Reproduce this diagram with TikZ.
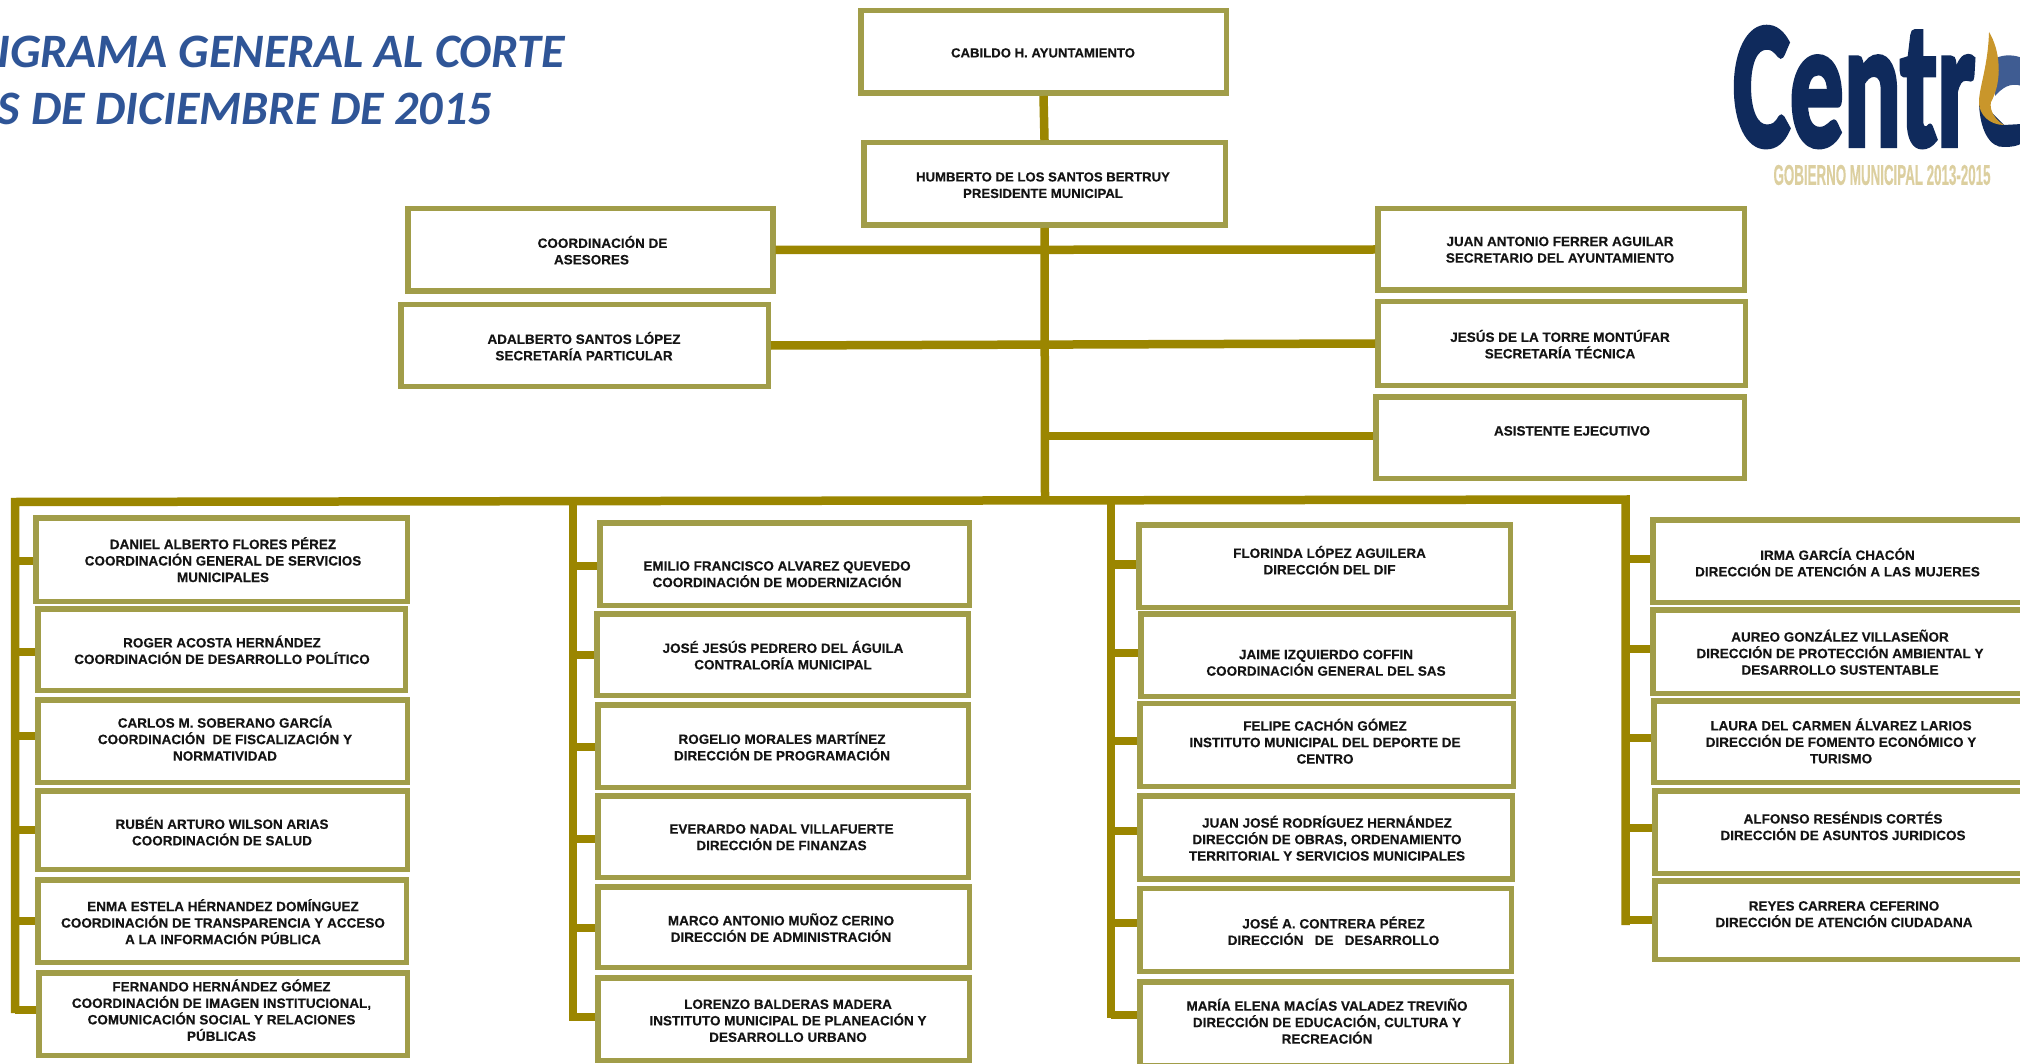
\documentclass[tikz,border=0pt]{standalone}
\usepackage{fontspec}
\setmainfont[BoldFeatures={FakeBold=0.35}]{Liberation Sans}
\newfontfamily\titlefont{Carlito}
\newfontfamily\logofont[FakeBold=3]{Carlito}
\definecolor{boxc}{HTML}{A19D49}
\definecolor{connc}{HTML}{9B8600}
\definecolor{titlec}{HTML}{2F5597}
\definecolor{navyc}{HTML}{0F2A5C}
\definecolor{tanc}{HTML}{DCCF9F}
\definecolor{flamec}{HTML}{C9962B}
\definecolor{blueoc}{HTML}{3F5C92}
\tikzset{
  orgbox/.style={draw=boxc,line width=5.5pt,inner sep=0pt},
  orgtext/.style={align=center,inner sep=0pt,yshift=0.8pt,text=black!92,font=\fontsize{13.5}{16.5}\selectfont\bfseries},
  toptext/.style={orgtext,font=\fontsize{13.15}{16.5}\selectfont\bfseries},
  conn/.style={draw=connc,line width=8.5pt,line join=miter},
  titletext/.style={anchor=base east,inner sep=0pt,text=titlec,font=\fontsize{48}{57}\selectfont\titlefont\bfseries\itshape}
}
% name, x0, y0, x1, y1, text centre x, text centre y, text
\newcommand{\orgb}[8]{%
  \node[orgbox,minimum width=#4pt-#2pt-5.5pt,minimum height=#5pt-#3pt-5.5pt] (#1) at ({(#2+#4)/2},{(#3+#5)/2}) {};
  \node[orgtext] (#1-t) at (#6,#7) {#8};}
% coordinate name, x, y on the trunk, box
\newcommand{\orgbr}[4]{%
  \coordinate (#1) at (#2,#3);
  \draw[conn] (#1) -- (#1 -| #4.west);}
\begin{document}
\begin{tikzpicture}[x=1pt,y=-1pt]
\useasboundingbox (0,0) rectangle (2020,1064);
\fill[white] (0,0) rectangle (2020,1064);
% title
\node[titletext] (title1) at (565,68) {IGRAMA GENERAL AL CORTE};
\node[titletext] (title2) at (492,125) {S DE DICIEMBRE DE 2015};
% logo
\node[anchor=south west,inner sep=0pt,text=navyc] (logo) at (1733,147) {\resizebox{242pt}{118pt}{\logofont\bfseries Centr}};
\fill[navyc] (1979,100) .. controls (1979,130) and (1990,148) .. (2004,147) .. controls (2012,147) and (2018,146) .. (2022,143) -- (2022,124) -- (2004,125) -- cycle;
\fill[blueoc] (1996,58) .. controls (2005,54) and (2015,55) .. (2022,58) -- (2022,86) .. controls (2010,82) and (2002,88) .. (1995,96) -- cycle;
\fill[flamec] (1989,32) .. controls (2000,50) and (2003,80) .. (1991,102) .. controls (1989,110) and (1995,120) .. (2004,125) .. controls (1990,125) and (1978,115) .. (1979,100) .. controls (1980,85) and (1988,65) .. (1989,32) -- cycle;
\node[anchor=center,inner sep=0pt,text=tanc] (logosub) at (1882,175) {\resizebox{217pt}{20pt}{\bfseries GOBIERNO MUNICIPAL 2013-2015}};
% top
\node[orgbox,minimum width=365.5pt,minimum height=82.5pt] (cab) at (1043.5,52) {};
\node[toptext] (cab-t) at (1043,53.7) {CABILDO H. AYUNTAMIENTO};
\node[orgbox,minimum width=361.5pt,minimum height=82.5pt] (hum) at (1044.5,184) {};
\node[toptext] (hum-t) at (1043,186) {HUMBERTO DE LOS SANTOS BERTRUY\\PRESIDENTE MUNICIPAL};
\orgb{ase}{405}{206}{775.5}{294}{597}{251}{\hspace*{11pt}COORDINACIÓN DE\\ASESORES\hspace*{11pt}}
\orgb{ada}{398}{302}{771}{389}{584}{347}{ADALBERTO SANTOS LÓPEZ\\SECRETARÍA PARTICULAR}
\orgb{jua}{1375}{206}{1747}{293}{1560}{250.5}{JUAN ANTONIO FERRER AGUILAR\\SECRETARIO DEL AYUNTAMIENTO}
\orgb{jes}{1375}{299}{1748}{388}{1560}{345}{JESÚS DE LA TORRE MONTÚFAR\\SECRETARÍA TÉCNICA}
\orgb{asi}{1373}{394}{1747}{481}{1572}{431.7}{ASISTENTE EJECUTIVO}
% column 1
\orgb{dan}{33}{515}{410}{604}{223}{560.4}{DANIEL ALBERTO FLORES PÉREZ\\COORDINACIÓN GENERAL DE SERVICIOS\\MUNICIPALES}
\orgb{rog}{35}{606}{408}{693}{222}{650.6}{ROGER ACOSTA HERNÁNDEZ\\COORDINACIÓN DE DESARROLLO POLÍTICO}
\orgb{car}{35}{697}{410}{785}{225}{739}{CARLOS M. SOBERANO GARCÍA\\COORDINACIÓN \ DE FISCALIZACIÓN Y\\NORMATIVIDAD}
\orgb{rub}{35}{788}{410}{872}{222}{832}{RUBÉN ARTURO WILSON ARIAS\\COORDINACIÓN DE SALUD}
\orgb{enm}{35}{877}{409}{965}{223}{922.5}{ENMA ESTELA HÉRNANDEZ DOMÍNGUEZ\\COORDINACIÓN DE TRANSPARENCIA Y ACCESO\\A LA INFORMACIÓN PÚBLICA}
\orgb{fer}{36}{970}{410}{1058}{221.5}{1011}{FERNANDO HERNÁNDEZ GÓMEZ\\COORDINACIÓN DE IMAGEN INSTITUCIONAL,\\COMUNICACIÓN SOCIAL Y RELACIONES\\PÚBLICAS}
% column 2
\orgb{emi}{597}{520}{972}{608}{777}{575}{EMILIO FRANCISCO ALVAREZ QUEVEDO\\COORDINACIÓN DE MODERNIZACIÓN}
\orgb{jos}{594}{611}{971}{698}{783}{656}{JOSÉ JESÚS PEDRERO DEL ÁGUILA\\CONTRALORÍA MUNICIPAL}
\orgb{roge}{595}{702}{971}{790}{782}{747}{ROGELIO MORALES MARTÍNEZ\\DIRECCIÓN DE PROGRAMACIÓN}
\orgb{eve}{595}{793}{971}{880}{781.5}{838}{EVERARDO NADAL VILLAFUERTE\\DIRECCIÓN DE FINANZAS}
\orgb{mar}{595}{884}{972}{970}{781}{928.4}{MARCO ANTONIO MUÑOZ CERINO\\DIRECCIÓN DE ADMINISTRACIÓN}
\orgb{lor}{595}{975}{972}{1063}{788}{1021.5}{LORENZO BALDERAS MADERA\\INSTITUTO MUNICIPAL DE PLANEACIÓN Y\\DESARROLLO URBANO}
% column 3
\orgb{flo}{1136}{522}{1513}{610}{1329.5}{561}{FLORINDA LÓPEZ AGUILERA\\DIRECCIÓN DEL DIF}
\orgb{jai}{1138}{611}{1516}{699}{1326}{663.6}{JAIME IZQUIERDO COFFIN\\COORDINACIÓN GENERAL DEL SAS}
\orgb{fel}{1137}{700.5}{1516}{789}{1325}{742}{FELIPE CACHÓN GÓMEZ\\INSTITUTO MUNICIPAL DEL DEPORTE DE\\CENTRO}
\orgb{jjr}{1137}{793}{1515}{881.5}{1327}{839}{JUAN JOSÉ RODRÍGUEZ HERNÁNDEZ\\DIRECCIÓN DE OBRAS, ORDENAMIENTO\\TERRITORIAL Y SERVICIOS MUNICIPALES}
\orgb{jac}{1137}{885.6}{1514}{974}{1333.5}{931.6}{JOSÉ A. CONTRERA PÉREZ\\DIRECCIÓN \ \ DE \ \ DESARROLLO}
\orgb{mae}{1137}{979}{1514}{1068}{1327}{1022}{MARÍA ELENA MACÍAS VALADEZ TREVIÑO\\DIRECCIÓN DE EDUCACIÓN, CULTURA Y\\RECREACIÓN}
% column 4
\orgb{irm}{1650}{517}{2040}{605}{1837.5}{563}{IRMA GARCÍA CHACÓN\\DIRECCIÓN DE ATENCIÓN A LAS MUJERES}
\orgb{aur}{1650}{607}{2040}{696}{1840}{653}{AUREO GONZÁLEZ VILLASEÑOR\\DIRECCIÓN DE PROTECCIÓN AMBIENTAL Y\\DESARROLLO SUSTENTABLE}
\orgb{lau}{1651}{698}{2040}{785}{1841}{741.7}{LAURA DEL CARMEN ÁLVAREZ LARIOS\\DIRECCIÓN DE FOMENTO ECONÓMICO Y\\TURISMO}
\orgb{alf}{1652}{788}{2040}{876}{1843}{826.7}{ALFONSO RESÉNDIS CORTÉS\\DIRECCIÓN DE ASUNTOS JURIDICOS}
\orgb{rey}{1652}{878}{2040}{962}{1844}{915}{REYES CARRERA CEFERINO\\DIRECCIÓN DE ATENCIÓN CIUDADANA}
% connectors: upper part
\coordinate (busj) at (1045,500.5);
\draw[conn] (cab.south) -- (hum.north);
\draw[conn] (hum.south) -- (busj);
\draw[conn] (ase.east) -- (jua.west);
\draw[conn] (ada.east) -- (jes.west);
\coordinate (asij) at (1044,436);
\draw[conn] (asij) -- (asij -| asi.west);
% main bus
\coordinate (busl) at (15,502);
\coordinate (busr) at (1625.5,499.5);
\coordinate (c1b) at (15,1013);
\coordinate (c4b) at (1625.5,925);
\draw[conn] (c1b) -- (busl) -- (busr) -- (c4b);
\coordinate (c2t) at (573,501);
\coordinate (c2b) at (573,1021);
\coordinate (c3t) at (1111,500);
\coordinate (c3b) at (1111,1018);
\draw[conn] (c2t) -- (c2b);
\draw[conn] (c3t) -- (c3b);
% branches
\orgbr{b11}{15}{561}{dan}
\orgbr{b12}{15}{652}{rog}
\orgbr{b13}{15}{736}{car}
\orgbr{b14}{15}{830}{rub}
\orgbr{b15}{15}{921}{enm}
\orgbr{b16}{15}{1010}{fer}
\orgbr{b21}{573}{566}{emi}
\orgbr{b22}{573}{655}{jos}
\orgbr{b23}{573}{747}{roge}
\orgbr{b24}{573}{839}{eve}
\orgbr{b25}{573}{928}{mar}
\orgbr{b26}{573}{1017}{lor}
\orgbr{b31}{1111}{564.5}{flo}
\orgbr{b32}{1111}{653}{jai}
\orgbr{b33}{1111}{741}{fel}
\orgbr{b34}{1111}{831}{jjr}
\orgbr{b35}{1111}{923}{jac}
\orgbr{b36}{1111}{1015}{mae}
\orgbr{b41}{1625.5}{559}{irm}
\orgbr{b42}{1625.5}{649}{aur}
\orgbr{b43}{1625.5}{738}{lau}
\orgbr{b44}{1625.5}{828}{alf}
\orgbr{b45}{1625.5}{920}{rey}
\end{tikzpicture}
\end{document}
